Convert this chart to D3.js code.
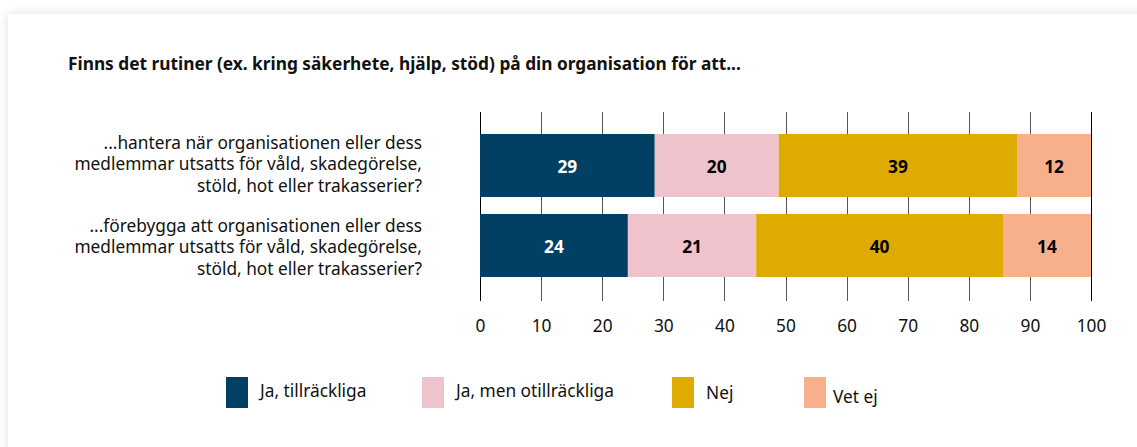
<!DOCTYPE html>
<html>
<head>
<meta charset="utf-8">
<script src="https://cdn.jsdelivr.net/npm/d3@7"></script>
<style>
  html, body { margin: 0; padding: 0; background: #fff; overflow: hidden; }
  body { width: 1137px; height: 447px; position: relative; font-family: "Noto Sans", sans-serif; }
  #card {
    position: absolute; left: 8px; top: 14px; width: 1160px; height: 460px;
    background: #fff; box-shadow: 0 0 10px rgba(0,0,0,0.12);
  }
  svg { position: absolute; left: 0; top: 0; }
</style>
</head>
<body>
<div id="card"></div>
<div id="chart"></div>
<script>
// chart data
var title = "Finns det rutiner (ex. kring säkerhete, hjälp, stöd) på din organisation för att...";
var questions = [
  ["...hantera när organisationen eller dess", "medlemmar utsatts för våld, skadegörelse,", "stöld, hot eller trakasserier?"],
  ["...förebygga att organisationen eller dess", "medlemmar utsatts för våld, skadegörelse,", "stöld, hot eller trakasserier?"]
];
var answers = ["Ja, tillräckliga", "Ja, men otillräckliga", "Nej", "Vet ej"];
var colors = ["#013f63", "#efc3cc", "#dfab00", "#f7b08b"];
var labelColors = ["#fff", "#000", "#000", "#000"];
var hantera = [28.6, 20.3, 39.0, 12.1];
var forebygga = [24.2, 21.0, 40.4, 14.4];
var ticks = [0, 10, 20, 30, 40, 50, 60, 70, 80, 90, 100];

var rows = [hantera, forebygga];
var fs = 17.3;

var width = 1137, height = 447;
var svg = d3.select("#chart").append("svg")
    .attr("width", width)
    .attr("height", height);

var x = d3.scaleLinear().domain([0, 100]).range([480, 1091]);
var y = d3.scaleBand().domain([0, 1]).range([134, 277]).paddingInner(0.2125).paddingOuter(0);
// baseline of the first line of each question label
var yLabel = d3.scalePoint().domain([0, 1]).range([149, 232]);

// title
svg.append("text")
    .attr("x", 68)
    .attr("y", 70)
    .attr("font-size", fs)
    .attr("font-weight", "bold")
    .attr("fill", "#111")
    .text(title);

// grid lines
svg.append("g")
    .selectAll("line")
    .data(ticks)
    .enter().append("line")
    .attr("x1", function(d) { return Math.round(x(d)) + 0.5; })
    .attr("x2", function(d) { return Math.round(x(d)) + 0.5; })
    .attr("y1", 112)
    .attr("y2", 301)
    .attr("stroke", function(d) { return (d == 0 || d == 100) ? "#000" : "#555"; })
    .attr("stroke-width", 1);

// tick labels
var axis = d3.axisBottom(x).tickValues(ticks).tickSize(0).tickPadding(0);
var ax = svg.append("g")
    .attr("transform", "translate(0,320)")
    .call(axis);
ax.select(".domain").remove();
ax.selectAll("text")
    .attr("font-family", "Noto Sans")
    .attr("font-size", fs)
    .attr("fill", "#111");

// stacked bars
var stack = rows.map(function(vals, i) {
  var acc = 0;
  return vals.map(function(v, j) {
    var s = { row: i, k: j, x0: acc, x1: acc + v, v: v };
    acc += v;
    return s;
  });
});

var bar = svg.append("g")
    .selectAll("g")
    .data(stack)
    .enter().append("g");

bar.selectAll("rect")
    .data(function(d) { return d; })
    .enter().append("rect")
    .attr("x", function(d) { return x(d.x0); })
    .attr("width", function(d) { return x(d.x1) - x(d.x0); })
    .attr("y", function(d) { return y(d.row); })
    .attr("height", y.bandwidth())
    .attr("fill", function(d) { return colors[d.k]; });

bar.selectAll("text")
    .data(function(d) { return d; })
    .enter().append("text")
    .attr("x", function(d) { return (x(d.x0) + x(d.x1)) / 2; })
    .attr("y", function(d) { return y(d.row) + y.bandwidth() / 2 + 7; })
    .attr("text-anchor", "middle")
    .attr("font-size", fs)
    .attr("font-weight", "bold")
    .attr("fill", function(d) { return labelColors[d.k]; })
    .text(function(d) { return d3.format(".0f")(d.v); });

// question labels
var q = svg.append("g")
    .selectAll("text")
    .data(questions)
    .enter().append("text")
    .attr("text-anchor", "end")
    .attr("font-size", fs)
    .attr("fill", "#111")
    .attr("y", function(d, i) { return yLabel(i); });

q.selectAll("tspan")
    .data(function(d) { return d; })
    .enter().append("tspan")
    .attr("x", 422)
    .attr("dy", function(d, i) { return i == 0 ? 0 : 21.3; })
    .text(function(d) { return d; });

// legend
var legendX = [226, 422, 672, 804];
var legendDy = [20, 20, 22, 26];
var lg = svg.append("g")
    .selectAll("g")
    .data(answers)
    .enter().append("g")
    .attr("transform", function(d, i) { return "translate(" + legendX[i] + ",377)"; });

lg.append("rect")
    .attr("width", 22)
    .attr("height", 31)
    .attr("fill", function(d, i) { return colors[i]; });

lg.append("text")
    .attr("x", function(d, i) { return i == 3 ? 29 : 34; })
    .attr("y", function(d, i) { return legendDy[i]; })
    .attr("font-size", fs)
    .attr("fill", "#111")
    .text(function(d) { return d; });
</script>
</body>
</html>
